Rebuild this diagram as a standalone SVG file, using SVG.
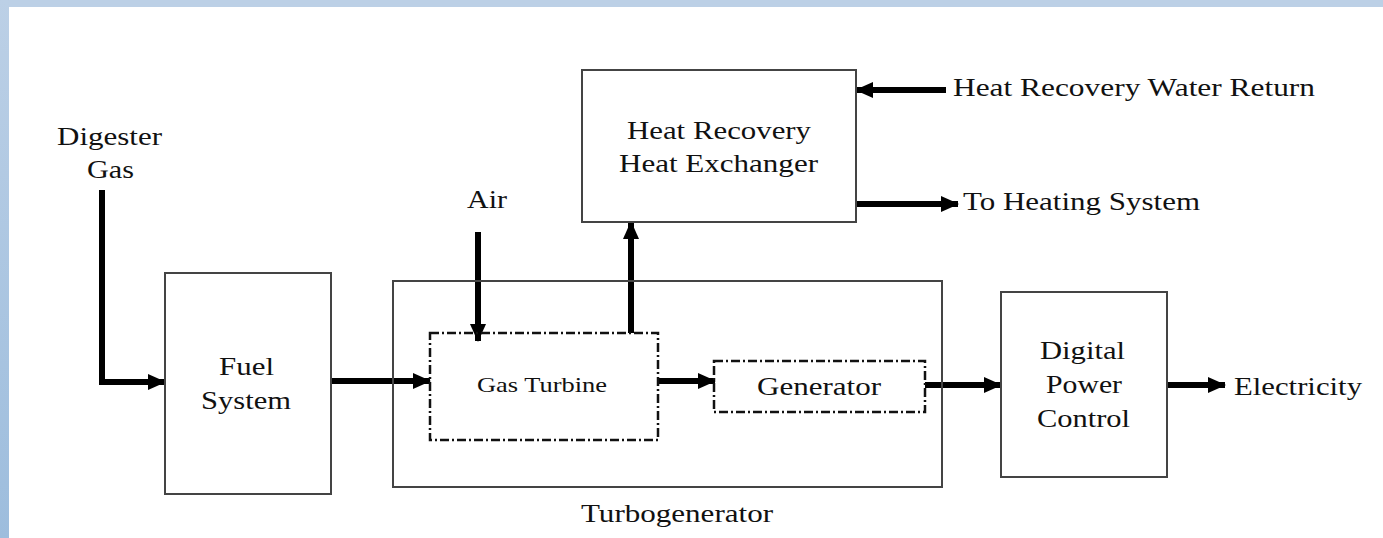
<svg xmlns="http://www.w3.org/2000/svg" width="1383" height="538" viewBox="0 0 1383 538">
<defs>
<marker id="ah" markerUnits="userSpaceOnUse" markerWidth="18" markerHeight="18" refX="17" refY="9" orient="auto">
<path d="M0,1 L18,9 L0,17 z" fill="#000"/>
</marker>
<linearGradient id="lb" x1="0" y1="0" x2="0" y2="1">
<stop offset="0" stop-color="#bcd0e6"/>
<stop offset="1" stop-color="#9dbddd"/>
</linearGradient>
</defs>
<style>
text{font-family:"Liberation Serif","Times New Roman",serif;font-size:26px;fill:#111}
.box{fill:none;stroke:#444;stroke-width:2}
.dash{fill:none;stroke:#111;stroke-width:2.5;stroke-dasharray:9,3,2,3}
.arr{fill:none;stroke:#000;stroke-width:6;marker-end:url(#ah)}
</style>
<rect x="0" y="0" width="1383" height="538" fill="#fff"/>
<rect x="0" y="0" width="1383" height="7" fill="#bcd0e6"/>
<rect x="0" y="0" width="9" height="538" fill="url(#lb)"/>

<g id="connectors">
<path class="arr" d="M102,190 V382 H165"/>
<path class="arr" d="M331,381 H430"/>
<path class="arr" d="M478,232 V341"/>
<path class="arr" d="M631,333 V222"/>
<path class="arr" d="M658,381 H715"/>
<path class="arr" d="M925,385 H1001"/>
<path class="arr" d="M1167,385 H1225"/>
<path class="arr" d="M946,90 H856"/>
<path class="arr" d="M856,204 H958"/>
</g>

<g id="digester-gas">
<text x="57" y="145" textLength="105" lengthAdjust="spacingAndGlyphs">Digester</text>
<text x="87" y="178" textLength="47" lengthAdjust="spacingAndGlyphs">Gas</text>
</g>
<g id="air"><text x="467" y="208" textLength="40" lengthAdjust="spacingAndGlyphs">Air</text></g>

<g id="heat-exchanger">
<rect class="box" x="582" y="70" width="274" height="152"/>
<text x="627" y="139" textLength="184" lengthAdjust="spacingAndGlyphs">Heat Recovery</text>
<text x="619" y="172" textLength="199" lengthAdjust="spacingAndGlyphs">Heat Exchanger</text>
</g>
<g id="water-return"><text x="953" y="96" textLength="362" lengthAdjust="spacingAndGlyphs">Heat Recovery Water Return</text></g>
<g id="heating-system"><text x="963" y="210" textLength="237" lengthAdjust="spacingAndGlyphs">To Heating System</text></g>

<g id="fuel-system">
<rect class="box" x="165" y="273" width="166" height="221"/>
<text x="219" y="375" textLength="55" lengthAdjust="spacingAndGlyphs">Fuel</text>
<text x="201" y="409" textLength="90" lengthAdjust="spacingAndGlyphs">System</text>
</g>

<g id="turbogenerator">
<rect class="box" x="393" y="281" width="549" height="206" stroke="#222"/>
<text x="581" y="522" textLength="192" lengthAdjust="spacingAndGlyphs">Turbogenerator</text>
</g>

<g id="gas-turbine">
<rect class="dash" x="430" y="333" width="228" height="107"/>
<text x="477" y="392" style="font-size:22px" textLength="130" lengthAdjust="spacingAndGlyphs">Gas Turbine</text>
</g>

<g id="generator">
<rect class="dash" x="714" y="361" width="211" height="51"/>
<text x="757" y="395" textLength="124" lengthAdjust="spacingAndGlyphs">Generator</text>
</g>

<g id="digital-power-control">
<rect class="box" x="1001" y="292" width="166" height="185"/>
<text x="1040" y="359" textLength="85" lengthAdjust="spacingAndGlyphs">Digital</text>
<text x="1046" y="393" textLength="76" lengthAdjust="spacingAndGlyphs">Power</text>
<text x="1037" y="427" textLength="93" lengthAdjust="spacingAndGlyphs">Control</text>
</g>

<g id="electricity"><text x="1234" y="395" textLength="128" lengthAdjust="spacingAndGlyphs">Electricity</text></g>
</svg>
